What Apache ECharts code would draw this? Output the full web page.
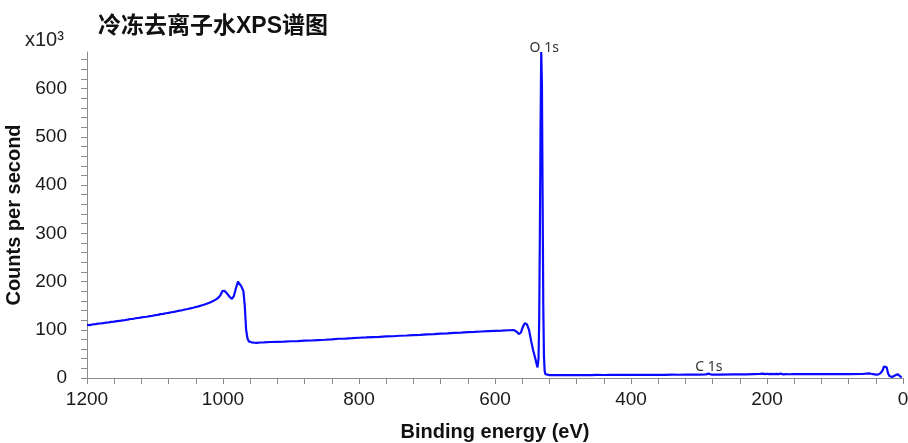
<!DOCTYPE html>
<html><head><meta charset="utf-8">
<script src="https://cdn.jsdelivr.net/npm/echarts@6/dist/echarts.min.js"></script>
<style>html,body{margin:0;padding:0;background:#fff}#c{width:908px;height:443px}</style>
</head><body><div id="c"></div>
<script>
const titleText = '冷冻去离子水XPS谱图';
const xName = 'Binding energy (eV)';
const yName = 'Counts per second';
const yUnit = 'x10³';
const xLabels = [0, 200, 400, 600, 800, 1000, 1200];
const yLabels = [0, 100, 200, 300, 400, 500, 600];
const energy = [1200,1196,1192,1188,1184,1180,1176,1172,1168,1164,1160,1156,1152,1148,1144,1140,1136,1132,1128,1124,1120,1116,1112,1108,1104,1100,1096,1092,1088,1084,1080,1076,1072,1068,1064,1060,1056,1052,1048,1044,1040,1036,1032,1028,1024,1020,1016,1012,1008,1004,1001,998,994,990,987,984,981,978,976,973,970,968,966,964,962,958,954,950,945,940,930,920,910,900,890,880,870,860,850,840,830,820,810,800,790,780,770,760,750,740,730,720,710,700,690,680,670,660,650,640,630,620,610,600,590,580,572,568,565,562,559,556,553,550,547,544,541,539,537.5,536,535,534,533,532,531,530,529,528,527,526,524,520,510,500,490,480,470,460,450,440,430,420,410,400,390,380,370,360,350,340,330,320,310,300,290,286,284,282,270,250,230,210,206,203,200,197,193,190,186,183,180,176,172,168,160,140,120,100,80,60,50,47,44,40,36,33,30,28,26,24,22,20,18,16,14,12,10,8,6,4,2,0];
const cps = [110,109.6,111,111.5,112.8,113,113.6,115,115.4,116.5,116.8,118,118.3,119.6,120.2,121,122.3,122.8,124,124.4,125.6,126.5,127,128.3,129,130.2,131,132.4,133,134.2,135,136.4,137.2,138.5,139.6,140.5,142,143,144.5,145.6,147.2,148.5,150.4,152,154,156,158.6,161.5,165,171,180,181,175,168,164,170,186,200,197,190,180,150,100,82,76,74,73.2,73,73.6,73.9,74.6,75.1,75.4,76.2,76.5,77.3,77.8,78.6,79.3,80.1,81.4,81.8,82.6,83.5,84.1,84.9,85.4,86.3,86.6,87.6,88.1,89,89.4,90.6,91.1,92,92.6,93.5,94.1,95,95.6,96.4,97.1,97.8,98.3,99,99.3,96,91,94,106,114,111,100,78,58,42,30,22,40,120,300,520,676,610,380,150,45,15,8,6.5,6,5.8,5.9,6.1,6,6.2,6.1,6.3,6.2,6.4,6.3,6.5,6.4,6.6,6.5,6.6,6.7,6.6,6.8,6.7,6.8,6.9,7,7.4,9,7.2,7.1,7.2,7.4,7.6,8.4,9,8.2,8.8,8,8.6,7.9,8.7,8.2,9,7.6,8.1,7.8,7.9,8,8,8.1,8.2,8.3,9.5,8.8,8.2,7,7.5,10,16,24,28,22,10,4,2.2,2,3,5,7,7.8,7,3.5,1];
const peakLabels = [{name: 'O 1s', e: 532, v: 676, dx: 3, dy: -4}, {name: 'C 1s', e: 284, v: 9, dx: -1, dy: -7}];

const xTicks = []; for (let v = 0; v <= 1200; v += 40) xTicks.push(v);
const yTicks = []; for (let v = 0; v <= 660; v += 20) yTicks.push(v);
const axisGray = '#8c8c8c';
const fontLat = '"Liberation Sans", Arial, sans-serif';

const chart = echarts.init(document.getElementById('c'));
chart.setOption({
  animation: false,
  backgroundColor: '#fff',
  title: {
    text: titleText, left: 93, top: 10,
    textStyle: {fontSize: 23, fontWeight: 'bold', color: '#111', fontFamily: '"Liberation Sans", "Noto Sans CJK SC", sans-serif'}
  },
  graphic: [{
    type: 'text', left: 25, top: 30,
    style: {text: yUnit, font: '20px "Liberation Sans", Arial, sans-serif', fill: '#222'}
  }],
  grid: {left: 87, right: 5, top: 52, bottom: 65, containLabel: false, outerBoundsMode: 'none'},
  xAxis: {
    type: 'value', min: 0, max: 1200, inverse: true,
    name: xName, nameLocation: 'middle', nameGap: 44,
    nameTextStyle: {fontSize: 20, fontWeight: 'bold', color: '#111', fontFamily: fontLat},
    axisLine: {show: true, onZero: false, lineStyle: {color: axisGray, width: 1}},
    axisTick: {show: true, length: 6, customValues: xTicks, lineStyle: {color: axisGray}},
    axisLabel: {customValues: xLabels, formatter: v => String(v), fontSize: 19, color: '#1a1a1a', margin: 12, fontFamily: fontLat},
    splitLine: {show: false}
  },
  yAxis: {
    type: 'value', min: 0, max: 676,
    name: yName, nameLocation: 'middle', nameGap: 59,
    nameTextStyle: {fontSize: 20, fontWeight: 'bold', color: '#111', fontFamily: fontLat},
    axisLine: {show: true, onZero: false, lineStyle: {color: axisGray, width: 1}},
    axisTick: {show: true, length: 6, customValues: yTicks, lineStyle: {color: axisGray}},
    axisLabel: {customValues: yLabels, formatter: v => String(v), fontSize: 19, color: '#1a1a1a', margin: 20, fontFamily: fontLat},
    splitLine: {show: false}
  },
  series: [{
    type: 'line',
    data: energy.map((e, i) => [e, cps[i]]),
    showSymbol: false, symbol: 'none',
    lineStyle: {color: '#0a0aff', width: 2.2},
    itemStyle: {color: '#0a0aff'},
    markPoint: {
      symbol: 'circle', symbolSize: 0,
      data: peakLabels.map(p => ({
        coord: [p.e, p.v], name: p.name,
        label: {show: true, formatter: p.name, position: 'inside', offset: [p.dx, p.dy],
          fontSize: 14, color: '#333', fontFamily: '"Noto Sans", sans-serif'}
      }))
    }
  }]
});
</script></body></html>
